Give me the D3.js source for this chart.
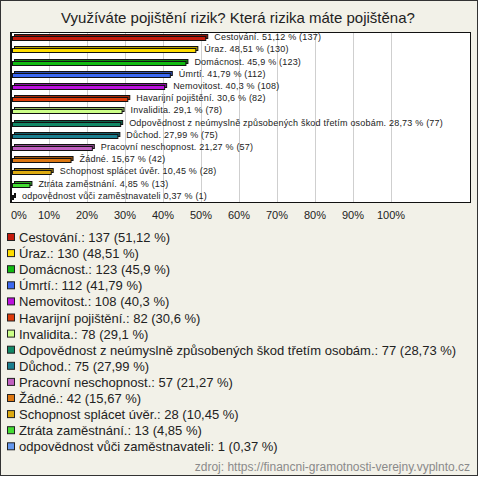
<!DOCTYPE html>
<html><head><meta charset="utf-8">
<script src="https://cdn.jsdelivr.net/npm/d3@7"></script>
<style>body{margin:0;background:#fff}svg{display:block;font-family:"Liberation Sans",Arial,sans-serif}</style>
</head><body>
<script>
const categories = ["Cestování.","Úraz.","Domácnost.","Úmrtí.","Nemovitost.","Havarijní pojištění.","Invalidita.","Odpovědnost z neúmyslně způsobených škod třetím osobám.","Důchod.","Pracovní neschopnost.","Žádné.","Schopnost splácet úvěr.","Ztráta zaměstnání.","odpovědnost vůči zaměstnavateli"];
const counts = [137,130,123,112,108,82,78,77,75,57,42,28,13,1];
const percents = [51.12,48.51,45.9,41.79,40.3,30.6,29.1,28.73,27.99,21.27,15.67,10.45,4.85,0.37];
const colors = ["#c41a0c","#ffdd00","#11bb11","#3b68f0","#bb11dd","#dd3a0a","#ccff88","#118866","#1a7f90","#c060c0","#dd7711","#ddaa11","#44dd33","#6699ee"];
const tickValues = [0,10,20,30,40,50,60,70,80,90,100];
const title = "Využíváte pojištění rizik? Která rizika máte pojištěna?";
const source = "zdroj: https://financni-gramotnosti-verejny.vyplnto.cz";

const W=480,H=477;
const svg=d3.select("body").append("svg").attr("width",W).attr("height",H);
svg.append("rect").attr("x",0.5).attr("y",0.5).attr("width",W-3).attr("height",H-2).attr("fill","#f2f1e8").attr("stroke","#333");
svg.append("text").attr("x",238).attr("y",23).attr("text-anchor","middle").attr("font-size",15).attr("fill","#222").text(title);

const plot={x0:10,x1:471,y0:32,y1:203};
svg.append("rect").attr("x",plot.x0+0.5).attr("y",plot.y0+0.5).attr("width",plot.x1-plot.x0-1).attr("height",plot.y1-plot.y0-1).attr("fill","#fff");
const x=d3.scaleLinear().domain([0,100]).range([11,391]);
const y=d3.scaleBand().domain(categories).range([plot.y0,plot.y1]);

// gridlines
svg.append("g").selectAll("line").data(tickValues.slice(1)).join("line")
 .attr("x1",d=>Math.round(x(d))+0.5).attr("x2",d=>Math.round(x(d))+0.5)
 .attr("y1",plot.y0).attr("y2",plot.y1).attr("stroke","#cfcfcf");
svg.append("rect").attr("x",plot.x0+0.5).attr("y",plot.y0+0.5).attr("width",plot.x1-plot.x0-1).attr("height",plot.y1-plot.y0-1).attr("fill","none").attr("stroke","#111");
svg.append("line").attr("x1",11.5).attr("x2",11.5).attr("y1",plot.y0).attr("y2",plot.y1).attr("stroke","#111");

// tick labels
svg.append("g").selectAll("text").data(tickValues).join("text")
 .attr("x",d=>d===0?11:x(d)).attr("y",219)
 .attr("text-anchor",d=>d===0?"start":"middle").attr("font-size",11).attr("fill","#222")
 .text(d=>d+"%");

const fmt=v=>String(v).replace(".",",");
const bars=svg.append("g").selectAll("g").data(categories).join("g");
bars.each(function(c,i){
  const g=d3.select(this);
  const cy=Math.round(y(c)+y.bandwidth()/2);
  const x0=12, xe=Math.max(x(percents[i]),13);
  const dark=d3.color(colors[i]).darker(0.9);
  g.append("rect").attr("x",x0+2.5).attr("y",cy-3.5).attr("width",xe-x0).attr("height",4).attr("fill",dark).attr("stroke","#111").attr("stroke-width",1);
  g.append("rect").attr("x",x0+0.5).attr("y",cy-1.5).attr("width",xe-x0).attr("height",4).attr("fill",colors[i]).attr("stroke","#111").attr("stroke-width",1);
  g.append("text").attr("x",xe+9).attr("y",cy+2).attr("font-size",9).attr("letter-spacing",0.2).attr("fill","#222")
   .text(categories[i]+" "+fmt(percents[i])+" % ("+counts[i]+")");
});

// legend
const lg=svg.append("g").selectAll("g").data(categories).join("g")
 .attr("transform",(d,i)=>`translate(0,${237+i*16.1})`);
lg.append("rect").attr("x",7.5).attr("y",-3.5).attr("width",7).attr("height",7).attr("fill",(d,i)=>colors[i]).attr("stroke","#222");
lg.append("text").attr("x",19).attr("y",5).attr("font-size",13).attr("fill","#222")
 .text((d,i)=>d+": "+counts[i]+" ("+fmt(percents[i])+" %)");

svg.append("text").attr("x",470).attr("y",471).attr("text-anchor","end").attr("font-size",12).attr("fill","#8a8a8a").text(source);
</script>
</body></html>
